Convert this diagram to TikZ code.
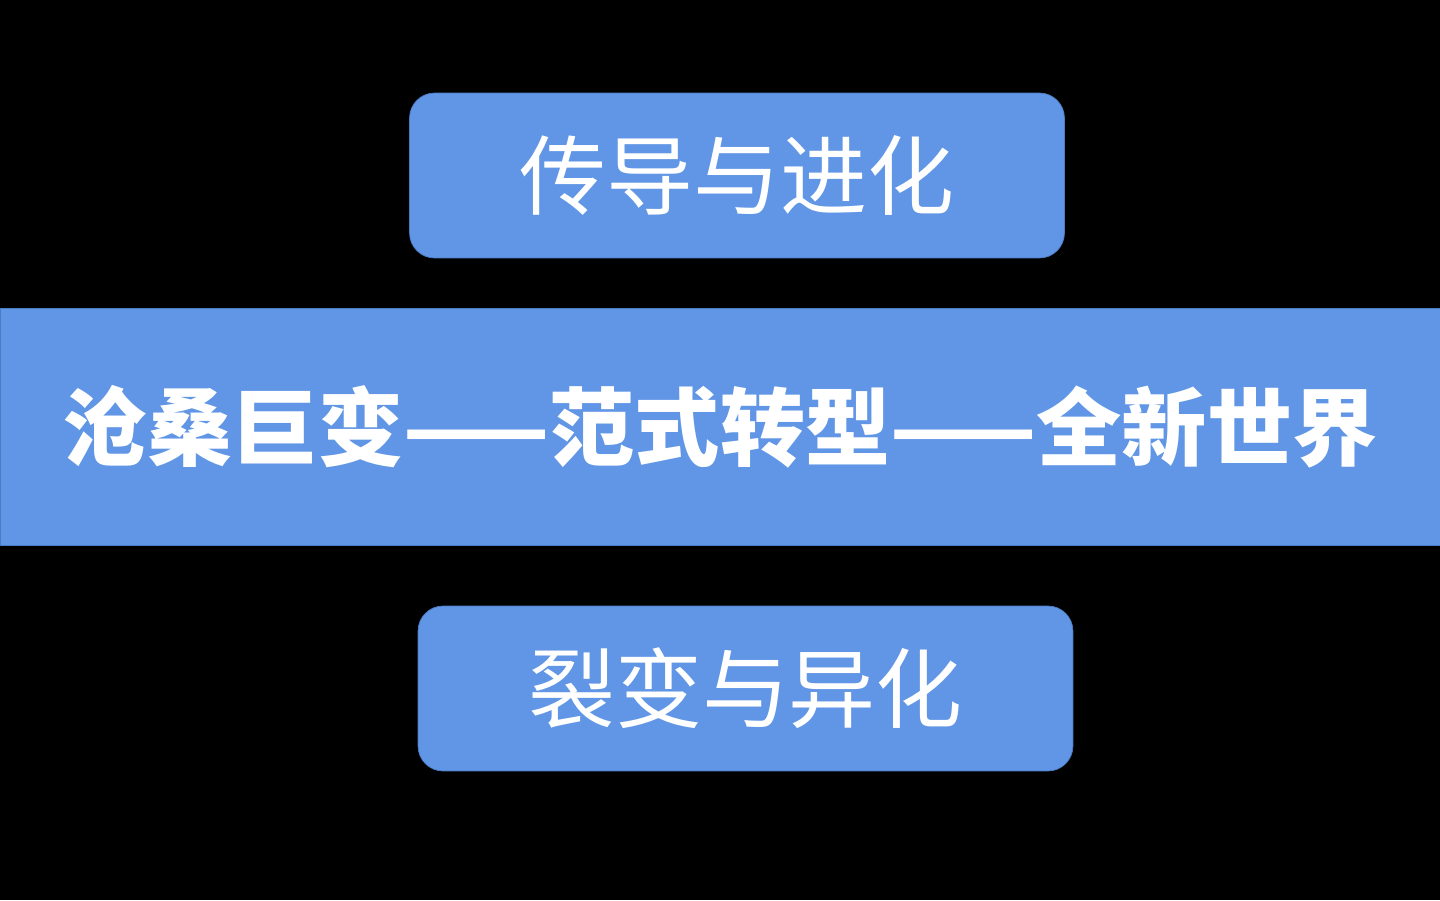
\documentclass[tikz,border=0pt]{standalone}
\usepackage{fontspec}
\newfontfamily\cjk{Noto Sans CJK SC}
\usetikzlibrary{positioning}

\definecolor{boxblue}{HTML}{6096E5}
\definecolor{edgeblue}{HTML}{4A7CC4}

\tikzset{
	topicbox/.style={draw=edgeblue, fill=boxblue, rounded corners=0.5cm, minimum width=13.1cm, minimum height=3.3cm, text=white, font=\cjk\fontsize{49.5}{55}\selectfont},
	bandbox/.style={draw=edgeblue, fill=boxblue, minimum width=28.8cm, minimum height=4.74cm, text=white, font=\cjk\bfseries\fontsize{48.5}{54}\selectfont}
}

\begin{document}
\begin{tikzpicture}[x=0.02cm, y=-0.02cm]
	\fill[black] (0,0) rectangle (1440,900);
	\useasboundingbox (0,0) rectangle (1440,900);
	\node[topicbox] (evolve) at (737,175.5) {传导与进化};
	\node[bandbox] (shift) at (720,426.5) {沧桑巨变——范式转型——全新世界};
	\node[topicbox] (split) at (745.5,688.5) {裂变与异化};
\end{tikzpicture}
\end{document}
